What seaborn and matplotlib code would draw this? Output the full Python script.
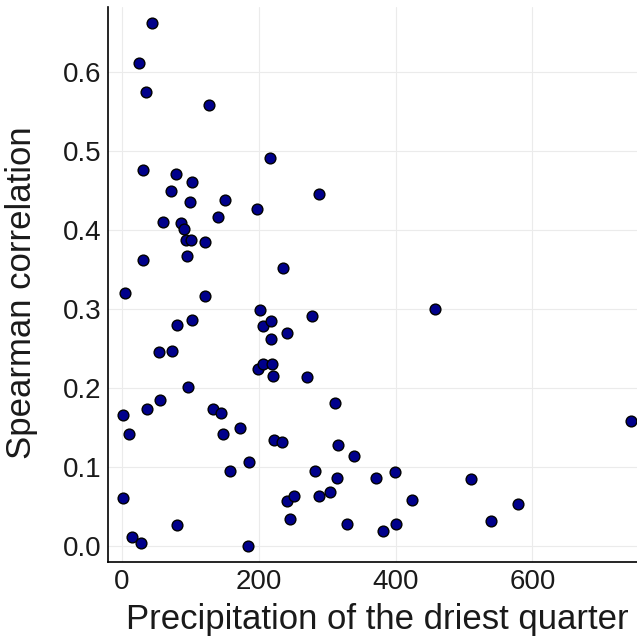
import numpy as np
import pandas as pd
import seaborn as sns
import matplotlib
matplotlib.use("Agg")
import matplotlib.pyplot as plt

precip = [44, 25, 35, 127, 217, 30, 79, 72, 102, 100, 151, 141, 197, 60, 86, 90, 94, 101,
          122, 95, 30, 236, 5, 121, 288,
          202, 278, 80, 102, 206, 218, 218, 241, 54, 73, 199, 206, 219, 221, 271, 97, 56,
          311, 1, 37, 133, 144, 10, 147, 172, 222, 234, 316, 339, 186, 158, 282, 315, 371,
          399, 1, 241, 251, 288, 304, 424, 80, 246, 329, 382, 400, 15, 28, 184,
          458, 510, 539, 579, 744]
spearman = [0.662, 0.612, 0.575, 0.558, 0.491, 0.476, 0.471, 0.450, 0.461, 0.436, 0.438,
            0.417, 0.427, 0.410, 0.409, 0.402, 0.387, 0.387, 0.385, 0.367, 0.362, 0.352,
            0.320, 0.316, 0.446,
            0.299, 0.291, 0.280, 0.286, 0.278, 0.285, 0.262, 0.270, 0.246, 0.247, 0.224,
            0.231, 0.231, 0.215, 0.214, 0.201, 0.185, 0.181, 0.166, 0.173, 0.173, 0.168,
            0.142, 0.142, 0.149, 0.134, 0.132, 0.128, 0.114, 0.106, 0.095, 0.095, 0.086,
            0.086, 0.094, 0.061, 0.057, 0.063, 0.063, 0.068, 0.058, 0.027, 0.034, 0.028,
            0.019, 0.028, 0.011, 0.004, 0.000,
            0.300, 0.085, 0.032, 0.053, 0.158]

x_ticks = [0, 200, 400, 600]
y_ticks = [0.0, 0.1, 0.2, 0.3, 0.4, 0.5, 0.6]
y_tick_labels = ["0.0", "0.1", "0.2", "0.3", "0.4", "0.5", "0.6"]

df = pd.DataFrame({"precip": precip, "rho": spearman})

sns.set_theme(style="white")
plt.rcParams["font.family"] = ["Liberation Sans", "DejaVu Sans"]

fig = plt.figure(figsize=(6.37, 6.43), dpi=100)
ax = fig.add_axes([108 / 637, 1 - 562 / 643, 1 - 108 / 637, (562 - 7) / 643])

sns.scatterplot(data=df, x="precip", y="rho", ax=ax, s=60, color="#00008B",
                edgecolor="black", linewidth=1.0, zorder=3, clip_on=True)

ax.set_xlim(-20.5, 753)
ax.set_ylim(-0.0203, 0.6825)
ax.set_xticks(x_ticks)
ax.set_yticks(y_ticks)
ax.set_yticklabels(y_tick_labels)
ax.grid(True, color="#ebebeb", linewidth=0.8)
ax.set_axisbelow(True)
for s in ["top", "right"]:
    ax.spines[s].set_visible(False)
for s in ["left", "bottom"]:
    ax.spines[s].set_color("black")
    ax.spines[s].set_linewidth(1.2)
ax.tick_params(axis="both", direction="in", length=5, width=1, color="black",
               labelsize=20, labelcolor="#1a1a1a", pad=5)
ax.set_xlabel("Precipitation of the driest quarter", fontsize=25, color="#1a1a1a")
ax.set_ylabel("Spearman correlation", fontsize=25, color="#1a1a1a")
ax.xaxis.set_label_coords(0.51, -0.073)
ax.yaxis.set_label_coords(-0.133, 0.485)

fig.savefig("out.png", dpi=100)
